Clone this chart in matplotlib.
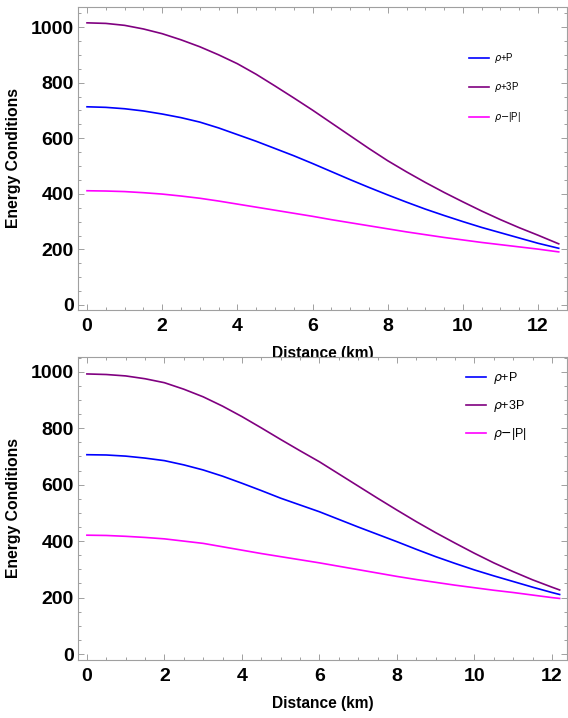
import numpy as np
import matplotlib.pyplot as plt
from matplotlib.ticker import MultipleLocator

plt.rcParams['font.family'] = ['Liberation Sans', 'DejaVu Sans']

# upper panel
r_top = [0, 0.5, 1, 1.5, 2, 2.5, 3, 3.5, 4, 4.5, 5, 5.5, 6, 6.5, 7, 7.5,
         8, 8.5, 9, 9.5, 10, 10.5, 11, 11.5, 12, 12.55]
rho_p_top = [713, 711, 706, 698, 687, 674, 658, 637, 613, 589, 563, 537, 509,
             480, 451, 423, 396, 370, 345, 322, 300, 279, 260, 241, 222, 204]
rho_3p_top = [1015, 1013, 1006, 993, 976, 954, 929, 900, 868, 830, 788, 745,
              701, 655, 609, 563, 519, 479, 441, 405, 371, 338, 307, 278, 251, 220]
rho_absp_top = [411, 410, 408, 404, 399, 392, 384, 374, 363, 352, 341, 330, 319,
                307, 296, 285, 274, 263, 253, 243, 234, 225, 217, 209, 201, 191]

# lower panel
r_bot = [0, 0.5, 1, 1.5, 2, 2.5, 3, 3.5, 4, 4.5, 5, 5.5, 6, 6.5, 7, 7.5,
         8, 8.5, 9, 9.5, 10, 10.5, 11, 11.5, 12, 12.2]
rho_p_bot = [706, 705, 701, 694, 685, 670, 652, 630, 605, 579, 552, 528, 504,
             477, 450, 424, 398, 371, 345, 321, 298, 277, 257, 237, 218, 211]
rho_3p_bot = [992, 990, 985, 975, 961, 938, 911, 878, 841, 801, 760, 720, 681,
              638, 595, 552, 510, 469, 430, 393, 357, 323, 292, 263, 237, 227]
rho_absp_bot = [421, 420, 417, 413, 408, 400, 392, 380, 368, 356, 345, 334, 323,
                311, 299, 287, 275, 264, 254, 244, 235, 226, 218, 209, 200, 197]

labels = [r'$\rho$+P', r'$\rho$+3P', r'$\rho$$-$|P|']
colors = ['#0000ff', '#800080', '#ff00ff']
frame = '#a0a0a0'

fig = plt.figure(figsize=(5.68, 7.18), dpi=100)
ax1 = fig.add_axes([78/568, (718-310)/718, 489/568, 303/718])
ax2 = fig.add_axes([78/568, (718-660)/718, 489/568, 303/718])


def style(ax, xlim, ylim):
    ax.set_xlim(*xlim)
    ax.set_ylim(*ylim)
    ax.xaxis.set_major_locator(MultipleLocator(2))
    ax.xaxis.set_minor_locator(MultipleLocator(0.5))
    ax.yaxis.set_major_locator(MultipleLocator(200))
    ax.yaxis.set_minor_locator(MultipleLocator(50))
    for s in ax.spines.values():
        s.set_color(frame)
        s.set_linewidth(0.8)
    ax.tick_params(which='both', direction='in', top=True, right=True,
                   color=frame, width=0.7)
    ax.tick_params(which='major', length=4.5)
    ax.tick_params(which='minor', length=2.5)
    ax.tick_params(axis='x', which='major', pad=5.5)
    ax.tick_params(axis='y', which='major', pad=3)
    for t in ax.get_xticklabels() + ax.get_yticklabels():
        t.set_fontsize(14)
        t.set_fontweight('bold')
    ax.set_ylabel('Energy Conditions', fontsize=11.3, fontweight='bold')
    ax.set_xlabel('Distance (km)', fontsize=11.2, fontweight='bold')
    ax.yaxis.set_label_coords(-0.117, 0.5)
    ax.xaxis.set_label_coords(0.5, -0.118)


style(ax1, (-0.24, 12.77), (-18, 1072))
ax1.plot(r_top, rho_p_top, color=colors[0], lw=1.2, label=labels[0])
ax1.plot(r_top, rho_3p_top, color=colors[1], lw=1.2, label=labels[1])
ax1.plot(r_top, rho_absp_top, color=colors[2], lw=1.2, label=labels[2])
ax1.legend(loc='upper left', bbox_to_anchor=(0.80, 0.855), frameon=False,
           fontsize=7, handlelength=2.0, labelspacing=1.6, borderpad=0,
           borderaxespad=0, handletextpad=0.5)

style(ax2, (-0.23, 12.39), (-21, 1052))
ax2.plot(r_bot, rho_p_bot, color=colors[0], lw=1.2, label=labels[0])
ax2.plot(r_bot, rho_3p_bot, color=colors[1], lw=1.2, label=labels[1])
ax2.plot(r_bot, rho_absp_bot, color=colors[2], lw=1.2, label=labels[2])
ax2.legend(loc='upper left', bbox_to_anchor=(0.793, 0.957), frameon=False,
           fontsize=9, handlelength=1.6, labelspacing=0.97, borderpad=0,
           borderaxespad=0, handletextpad=0.6)

fig.savefig('out.png', dpi=100)
